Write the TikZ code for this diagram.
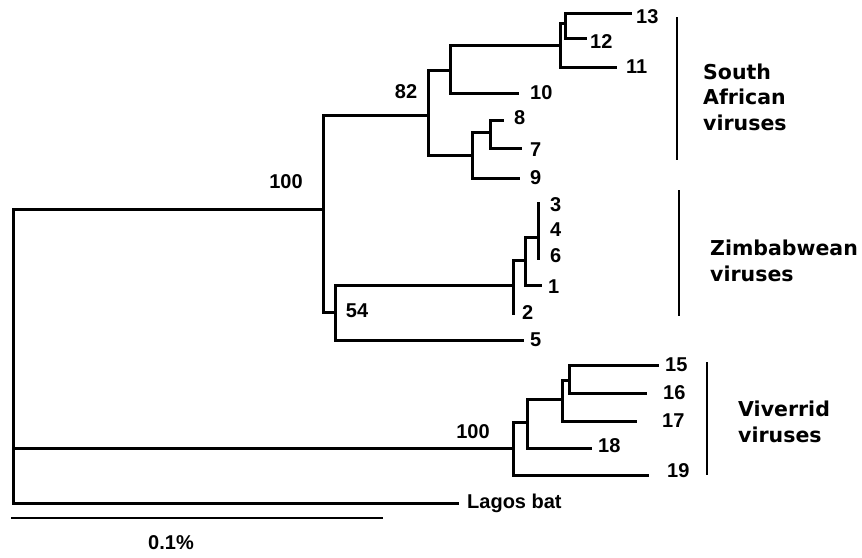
\documentclass[tikz,border=0pt]{standalone}
\usepackage{fontspec}
\setmainfont{Liberation Sans}
\newfontfamily\grpfont{DejaVu Sans}
\usepackage{tikz}
\usetikzlibrary{positioning}
\tikzset{%
	waypoint/.style = {coordinate}, % branch point
	brline/.style   = {line width=3pt, line cap=rect},
	barline/.style  = {line width=1.6pt},
	tiplbl/.style   = {inner sep=0pt, font=\bfseries\fontsize{20}{20}\selectfont}, % leaf number
	bootlbl/.style  = {inner sep=0pt, font=\bfseries\fontsize{20}{20}\selectfont}, % bootstrap value
	grplbl/.style   = {inner sep=0pt, align=left, anchor=west, font=\grpfont\bfseries\fontsize{20.5}{25.5}\selectfont},
}

\begin{document}
\begin{tikzpicture}[x=1pt,y=-1pt,node distance=8pt]
	\useasboundingbox (0,0) rectangle (862,557);
	% branch points
	\node [waypoint] (root) at (13,209) {};
	\node [waypoint] (n100a) at (323,209) {};
	\node [waypoint] (n82) at (428,115) {};
	\node [waypoint] (na) at (450,70) {};
	\node [waypoint] (nb) at (560,45) {};
	\node [waypoint] (nc) at (565,23) {};
	\node [waypoint] (nd) at (472,155) {};
	\node [waypoint] (ne) at (490,132) {};
	\node [waypoint] (n54) at (335,312) {};
	\node [waypoint] (nf) at (513,285) {};
	\node [waypoint] (ng) at (525,260) {};
	\node [waypoint] (nh) at (538,237) {};
	\node [waypoint] (n100b) at (513,448) {};
	\node [waypoint] (ni) at (527,422) {};
	\node [waypoint] (nj) at (562,399) {};
	\node [waypoint] (nk) at (569,380) {};
	% tips
	\node [waypoint] (t13) at (630,13) {};
	\node [waypoint] (t12) at (585,38) {};
	\node [waypoint] (t11) at (615,67) {};
	\node [waypoint] (t10) at (517,93) {};
	\node [waypoint] (t8) at (502,120) {};
	\node [waypoint] (t7) at (520,148) {};
	\node [waypoint] (t9) at (518,178) {};
	\node [waypoint] (t3) at (538,203) {};
	\node [waypoint] (t4) at (538,230) {};
	\node [waypoint] (t6) at (538,258) {};
	\node [waypoint] (t1) at (540,285) {};
	\node [waypoint] (t2) at (513,313) {};
	\node [waypoint] (t5) at (522,340) {};
	\node [waypoint] (t15) at (657,365) {};
	\node [waypoint] (t16) at (645,393) {};
	\node [waypoint] (t17) at (635,421) {};
	\node [waypoint] (t18) at (590,448) {};
	\node [waypoint] (t19) at (647,475) {};
	\node [waypoint] (tlag) at (457,503) {};
	
	% tree
	\draw [brline] (root) -- (n100a);
	\draw [brline] (root) |- (n100b);
	\draw [brline] (root) |- (tlag);
	\draw [brline] (n100a) |- (n82);
	\draw [brline] (n100a) |- (n54);
	\draw [brline] (n82) |- (na);
	\draw [brline] (n82) |- (nd);
	\draw [brline] (na) |- (nb);
	\draw [brline] (na) |- (t10);
	\draw [brline] (nb) |- (nc);
	\draw [brline] (nb) |- (t11);
	\draw [brline] (nc) |- (t13);
	\draw [brline] (nc) |- (t12);
	\draw [brline] (nd) |- (ne);
	\draw [brline] (nd) |- (t9);
	\draw [brline] (ne) |- (t8);
	\draw [brline] (ne) |- (t7);
	\draw [brline] (n54) |- (nf);
	\draw [brline] (n54) |- (t5);
	\draw [brline] (nf) |- (ng);
	\draw [brline] (nf) |- (t2);
	\draw [brline] (ng) |- (nh);
	\draw [brline] (ng) |- (t1);
	\draw [brline] (nh) |- (t3);
	\draw [brline] (nh) |- (t6);
	\draw [brline] (n100b) |- (ni);
	\draw [brline] (n100b) |- (t19);
	\draw [brline] (ni) |- (nj);
	\draw [brline] (ni) |- (t18);
	\draw [brline] (nj) |- (nk);
	\draw [brline] (nj) |- (t17);
	\draw [brline] (nk) |- (t15);
	\draw [brline] (nk) |- (t16);
	
	% leaf numbers
	\node [tiplbl] (l13) [right=6pt of t13, yshift=-4pt] {13};
	\node [tiplbl] (l12) [right=5pt of t12, yshift=-4pt] {12};
	\node [tiplbl] (l11) [right=11pt of t11] {11};
	\node [tiplbl] (l10) [right=13pt of t10] {10};
	\node [tiplbl] (l8) [right=12pt of t8, yshift=2pt] {8};
	\node [tiplbl] (l7) [right=10pt of t7, yshift=-2pt] {7};
	\node [tiplbl] (l9) [right=12pt of t9] {9};
	\node [tiplbl] (l3) [right=12pt of t3, yshift=-2pt] {3};
	\node [tiplbl] (l4) [right=12pt of t4] {4};
	\node [tiplbl] (l6) [right=12pt of t6, yshift=2pt] {6};
	\node [tiplbl] (l1) [right=8pt of t1, yshift=-2pt] {1};
	\node [tiplbl] (l2) [right=9pt of t2] {2};
	\node [tiplbl] (l5) [right=8pt of t5] {5};
	\node [tiplbl] (l15) [right=8pt of t15] {15};
	\node [tiplbl] (l16) [right=18pt of t16] {16};
	\node [tiplbl] (l17) [right=27pt of t17] {17};
	\node [tiplbl] (l18) [right=8pt of t18, yshift=2pt] {18};
	\node [tiplbl] (l19) [right=20pt of t19, yshift=4pt] {19};
	\node [tiplbl] (llag) [right=10pt of tlag] {Lagos bat};
	
	% bootstrap values
	\node [bootlbl] (b100a) at (286,182) {100};
	\node [bootlbl] (b82) at (406,92) {82};
	\node [bootlbl] (b54) at (357,311) {54};
	\node [bootlbl] (b100b) at (473,432) {100};
	
	% groups
	\node [waypoint] (sat) at (677,17) {};
	\node [waypoint] (sab) at (677,160) {};
	\node [waypoint] (zwt) at (679,190) {};
	\node [waypoint] (zwb) at (679,316) {};
	\node [waypoint] (vvt) at (707,362) {};
	\node [waypoint] (vvb) at (707,475) {};
	\draw [barline] (sat) -- (sab);
	\draw [barline] (zwt) -- (zwb);
	\draw [barline] (vvt) -- (vvb);
	\node [grplbl] (gsa) at (703,97) {South\\African\\viruses};
	\node [grplbl] (gzw) at (710,261) {Zimbabwean\\viruses};
	\node [grplbl] (gvv) at (738,422) {Viverrid\\viruses};
	
	% scale
	\node [waypoint] (scl) at (11,518) {};
	\node [waypoint] (scr) at (383,518) {};
	\draw [barline] (scl) -- (scr);
	\node [tiplbl] (lscale) at (171,543) {0.1\%};
\end{tikzpicture}
\end{document}
